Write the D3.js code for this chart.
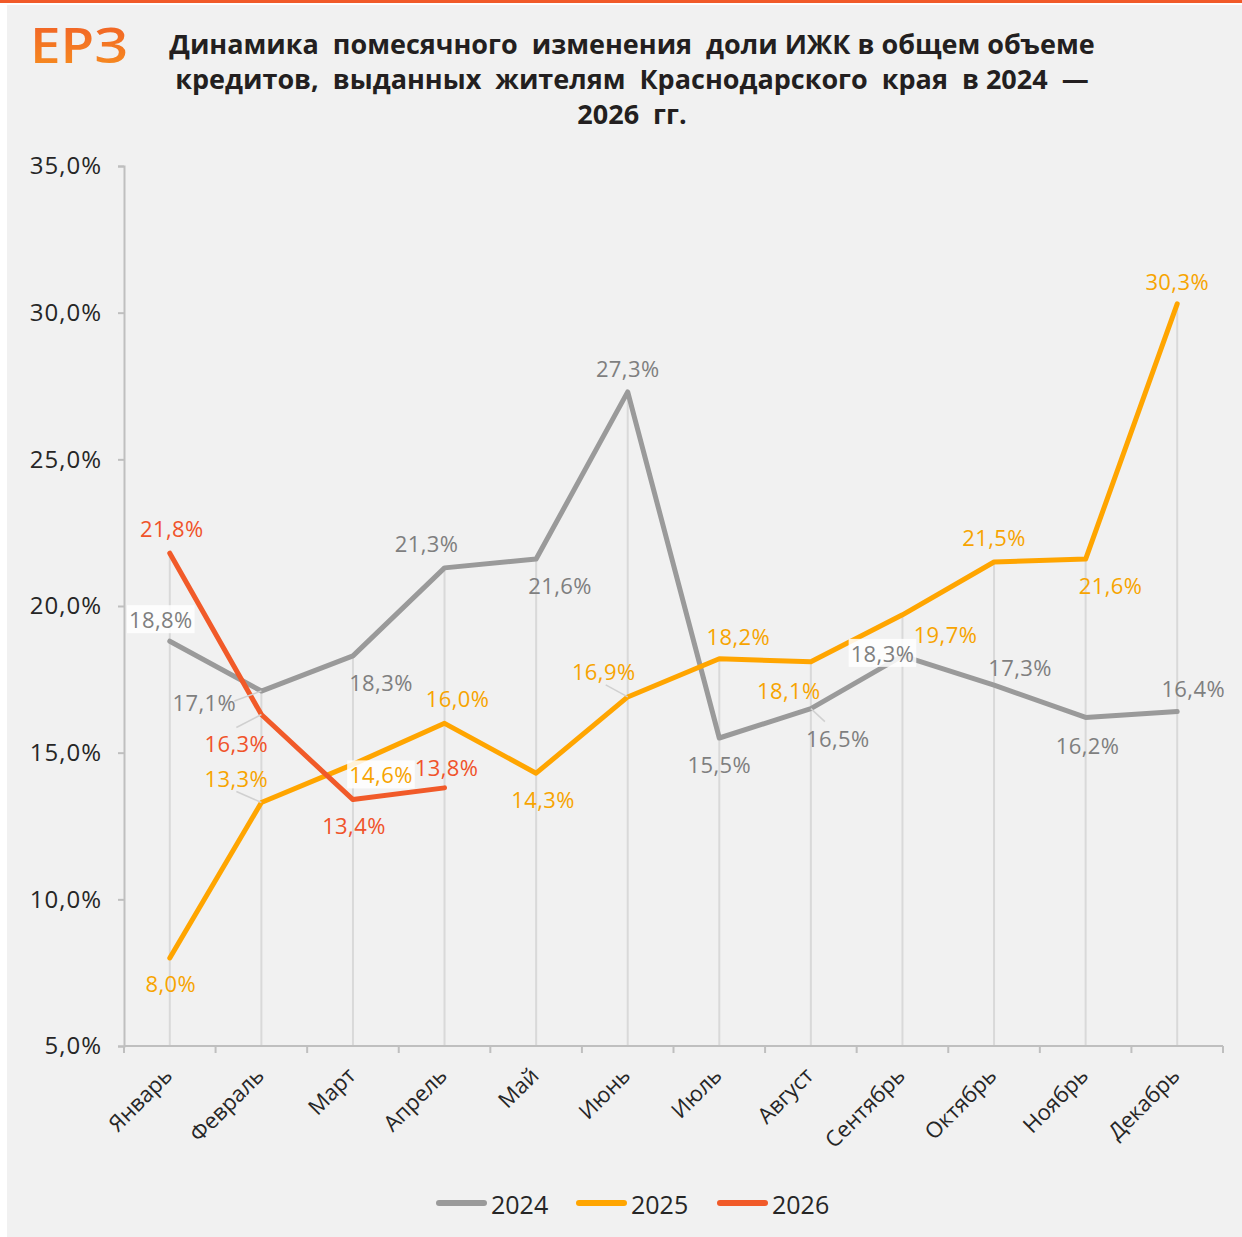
<!DOCTYPE html>
<html>
<head>
<meta charset="utf-8">
<script src="https://cdn.jsdelivr.net/npm/d3@7"></script>
<style>
  html, body { margin: 0; padding: 0; background: #fff; }
  text { font-family: "Open Sans", sans-serif; }
</style>
</head>
<body>
<div class="chart"></div>
<script>
// Data
const months = ['Январь', 'Февраль', 'Март', 'Апрель', 'Май', 'Июнь', 'Июль', 'Август', 'Сентябрь', 'Октябрь', 'Ноябрь', 'Декабрь']
const years = ['2024', '2025', '2026']
const values2024 = [18.8, 17.1, 18.3, 21.3, 21.6, 27.3, 15.5, 16.5, 18.3, 17.3, 16.2, 16.4]
const values2025 = [8.0, 13.3, 14.6, 16.0, 14.3, 16.9, 18.2, 18.1, 19.7, 21.5, 21.6, 30.3]
const values2026 = [21.8, 16.3, 13.4, 13.8]
const yTicks = [5, 10, 15, 20, 25, 30, 35]

// label placement relative to each point (dx, dy)
const labelOffsets = [
    [[-9, -22], [-57, 11], [28, 26], [-18, -25], [24, 26], [0, -24], [0, 26], [27, 29], [-20, -3], [26, -18], [2, 28], [16, -24]],
    [[1, 25], [-25, -25], [28, 10], [13, -25], [7, 26], [-24, -26], [19, -23], [-22, 28], [43, 19], [0, -25], [25, 26], [0, -23]],
    [[2, -25], [-25, 28], [1, 25], [2, -21]]
]
// labels with a white box behind them
const boxed = [[0, 0], [0, 8], [1, 2]]
// leader lines: series, index, end dx, end dy
const leaders = [[0, 1, -27, 10], [0, 7, 14, 13], [1, 1, -25, -11], [1, 5, -22, -12], [2, 1, -25, 13]]

const lineColors = ['#9a9a9a', '#ffa500', '#f15a29']
const labelColors = ['#7f7f7f', '#f7a400', '#f0532a']

const series = [values2024, values2025, values2026]

const W = 1242, H = 1237

const svg = d3.select('.chart')
    .append('svg')
    .attr('width', W)
    .attr('height', H)

// background
svg.append('rect').attr('x', 0).attr('y', 0).attr('width', W).attr('height', 3).attr('fill', '#f15a29')
svg.append('rect').attr('x', 7).attr('y', 5).attr('width', W - 7).attr('height', H - 5).attr('fill', '#f1f1f1')

// logo
const defs = svg.append('defs')
const grad = defs.append('linearGradient')
    .attr('id', 'logoGrad')
    .attr('x1', 0).attr('y1', 0).attr('x2', 0).attr('y2', 1)
grad.append('stop').attr('offset', '0%').attr('stop-color', '#f05a28')
grad.append('stop').attr('offset', '100%').attr('stop-color', '#f7931e')

svg.append('text')
    .attr('x', 30)
    .attr('y', 63)
    .attr('font-size', 48)
    .attr('font-weight', 600)
    .attr('textLength', 98)
    .attr('lengthAdjust', 'spacingAndGlyphs')
    .attr('fill', 'url(#logoGrad)')
    .text('ЕРЗ')

// title
const titleLines = [
    'Динамика  помесячного  изменения  доли ИЖК в общем объеме',
    'кредитов,  выданных  жителям  Краснодарского  края  в 2024  —',
    '2026  гг.'
]
svg.append('g')
    .selectAll('text')
    .data(titleLines)
    .enter()
    .append('text')
    .attr('x', 632)
    .attr('y', (d, i) => 54 + i * 35)
    .attr('text-anchor', 'middle')
    .attr('font-size', 27)
    .attr('font-weight', 700)
    .attr('fill', '#231f20')
    .style('white-space', 'pre')
    .text(d => d)

// scales
const x = d3.scaleBand()
    .domain(months)
    .range([124, 1223])

const y = d3.scaleLinear()
    .domain([5, 35])
    .range([1046, 166])

const cx = m => x(m) + x.bandwidth() / 2

// drop lines up to the highest value per month
const dropG = svg.append('g')
months.forEach((m, i) => {
    const top = d3.max(series, s => s[i] === undefined ? -Infinity : s[i])
    dropG.append('line')
        .attr('x1', cx(m)).attr('x2', cx(m))
        .attr('y1', y(5)).attr('y2', y(top))
        .attr('stroke', '#d9d9d9')
        .attr('stroke-width', 2)
})

// y axis
const yAxis = svg.append('g')
    .attr('transform', 'translate(124,0)')
    .call(d3.axisLeft(y)
        .tickValues(yTicks)
        .tickSize(6)
        .tickPadding(16)
        .tickFormat(d => d.toFixed(1).replace('.', ',') + '%'))
yAxis.select('.domain').attr('stroke', '#bfbfbf').attr('stroke-width', 2)
yAxis.selectAll('.tick line').attr('stroke', '#bfbfbf').attr('stroke-width', 2)
yAxis.selectAll('.tick text')
    .attr('font-size', 24)
    .attr('letter-spacing', 1)
    .attr('fill', '#262626')
    .style('font-family', '"Open Sans", sans-serif')

// x axis
const xAxisG = svg.append('g')
xAxisG.append('line')
    .attr('x1', x.range()[0]).attr('x2', x.range()[1])
    .attr('y1', y(5)).attr('y2', y(5))
    .attr('stroke', '#bfbfbf')
    .attr('stroke-width', 2)
d3.range(months.length + 1).forEach(i => {
    const tx = x.range()[0] + i * x.step()
    xAxisG.append('line')
        .attr('x1', tx).attr('x2', tx)
        .attr('y1', y(5)).attr('y2', y(5) + 7)
        .attr('stroke', '#bfbfbf')
        .attr('stroke-width', 2)
})
xAxisG.selectAll('text.month')
    .data(months)
    .enter()
    .append('text')
    .attr('class', 'month')
    .attr('transform', d => `translate(${cx(d) + 4},${y(5) + 31}) rotate(-45)`)
    .attr('text-anchor', 'end')
    .attr('font-size', 22)
    .attr('fill', '#262626')
    .text(d => d)

// lines
const line = d3.line()
    .x((d, i) => cx(months[i]))
    .y(d => y(d))

svg.append('g')
    .selectAll('path')
    .data(series)
    .enter()
    .append('path')
    .attr('d', d => line(d))
    .attr('fill', 'none')
    .attr('stroke', (d, i) => lineColors[i])
    .attr('stroke-width', 5)
    .attr('stroke-linejoin', 'round')
    .attr('stroke-linecap', 'round')

// leader lines
svg.append('g')
    .selectAll('line')
    .data(leaders)
    .enter()
    .append('line')
    .attr('x1', d => cx(months[d[1]]))
    .attr('y1', d => y(series[d[0]][d[1]]))
    .attr('x2', d => cx(months[d[1]]) + d[2])
    .attr('y2', d => y(series[d[0]][d[1]]) + d[3])
    .attr('stroke', '#d0d0d0')
    .attr('stroke-width', 1.5)

// data labels
const labels = []
series.forEach((s, si) => {
    s.forEach((v, i) => {
        labels.push({
            si, i, v,
            x: cx(months[i]) + labelOffsets[si][i][0],
            y: y(v) + labelOffsets[si][i][1],
            box: boxed.some(b => b[0] === si && b[1] === i)
        })
    })
})

const labelG = svg.append('g')
const lab = labelG.selectAll('g')
    .data(labels)
    .enter()
    .append('g')

lab.append('text')
    .attr('x', d => d.x)
    .attr('y', d => d.y)
    .attr('text-anchor', 'middle')
    .attr('dominant-baseline', 'central')
    .attr('font-size', 22)
    .attr('letter-spacing', 0.4)
    .attr('fill', d => labelColors[d.si])
    .text(d => d.v.toFixed(1).replace('.', ',') + '%')

lab.filter(d => d.box).each(function () {
    const t = d3.select(this).select('text')
    const bb = t.node().getBBox()
    d3.select(this).insert('rect', 'text')
        .attr('x', bb.x - 2)
        .attr('y', bb.y + 1)
        .attr('width', bb.width + 4)
        .attr('height', bb.height - 2)
        .attr('fill', '#ffffff')
        .attr('opacity', 0.85)
})

// legend
const legendX = [437, 577, 718]
const legend = svg.append('g')
    .selectAll('g')
    .data(years)
    .enter()
    .append('g')
    .attr('transform', (d, i) => `translate(${legendX[i]},1203)`)
legend.append('line')
    .attr('x1', 2).attr('x2', 47)
    .attr('y1', 0).attr('y2', 0)
    .attr('stroke', (d, i) => lineColors[i])
    .attr('stroke-width', 6)
    .attr('stroke-linecap', 'round')
legend.append('text')
    .attr('x', 54)
    .attr('y', 1)
    .attr('dominant-baseline', 'central')
    .attr('font-size', 25)
    .attr('fill', '#262626')
    .text(d => d)
</script>
</body>
</html>
